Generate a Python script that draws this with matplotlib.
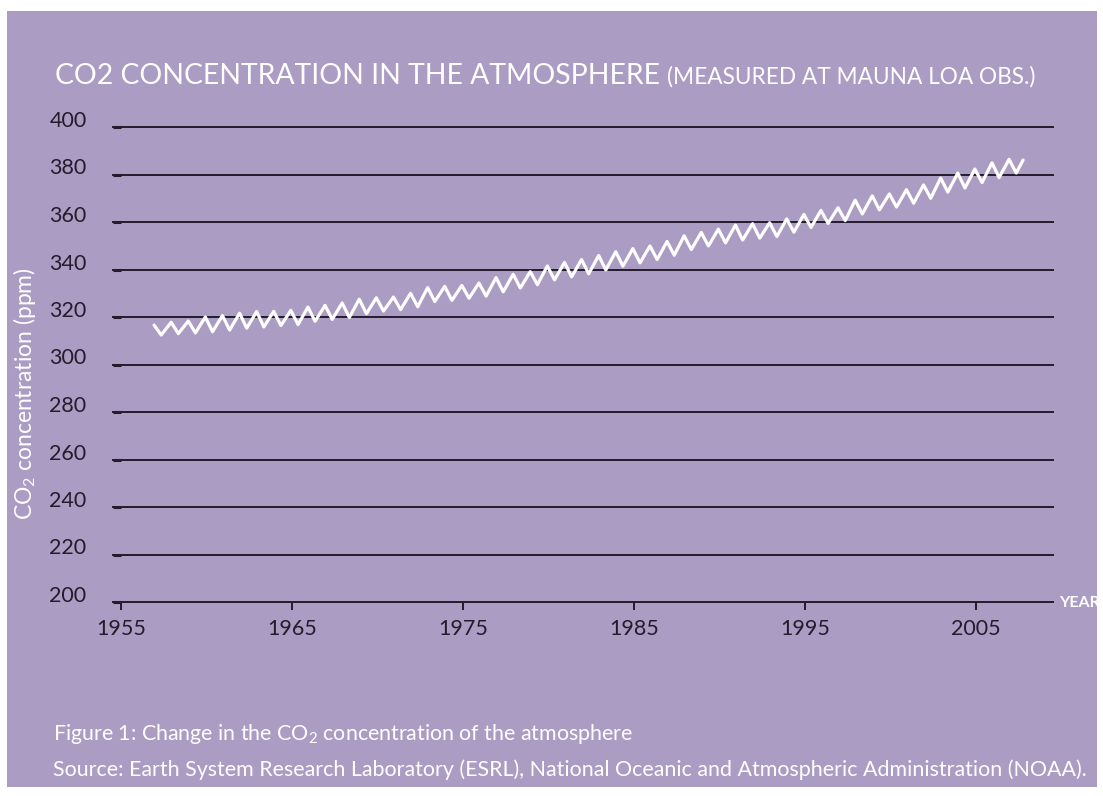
import numpy as np
import matplotlib
matplotlib.use("Agg")
import matplotlib.pyplot as plt
from matplotlib.patches import Rectangle

plt.rcParams['font.family'] = ['Lato', 'DejaVu Sans']
plt.rcParams['mathtext.fontset'] = 'custom'
plt.rcParams['mathtext.rm'] = 'Lato'
plt.rcParams['mathtext.it'] = 'Lato'

# Seasonal cycles (ppm): one high and one low per year
peak_years = list(range(1956, 2007))
peak_ppm = [316.6, 317.8, 318.3, 320.0, 320.6, 321.6, 322.3, 322.4, 322.8, 324.2,
            324.9, 325.9, 327.5, 328.1, 328.4, 330.0, 332.4, 332.9, 333.3, 334.3,
            336.6, 338.0, 339.1, 341.5, 343.0, 344.2, 345.9, 347.5, 348.8, 349.9,
            351.8, 354.2, 355.6, 357.0, 358.7, 359.3, 359.7, 361.3, 363.2, 364.9,
            366.0, 369.2, 371.0, 371.8, 373.6, 375.6, 378.5, 380.6, 382.3, 384.9,
            386.4]
trough_years = list(range(1957, 2008))
trough_ppm = [312.4, 313.0, 313.3, 313.8, 314.5, 315.3, 315.8, 316.4, 316.8, 318.2,
              319.0, 319.8, 321.4, 322.5, 323.1, 324.3, 326.5, 327.0, 327.9, 328.8,
              330.6, 332.2, 333.6, 335.6, 336.9, 338.2, 339.8, 341.4, 342.8, 344.2,
              346.0, 348.4, 349.9, 351.2, 352.4, 353.2, 353.9, 355.7, 357.7, 359.4,
              360.6, 363.4, 365.1, 366.3, 367.9, 370.0, 372.6, 374.3, 376.6, 378.7,
              380.6]
last_point = (2007.75, 386.1)

yticks = list(range(200, 401, 20))
xticks = [1955, 1965, 1975, 1985, 1995, 2005]

# where in the year the high and the low fall on the chart
PEAK_PHASE = 0.93
TROUGH_PHASE = 0.35

# build the zig-zag: high, low, high, low ... then the last reading
t, v = [], []
for i in range(len(peak_years)):
    t.append(peak_years[i] + PEAK_PHASE)
    v.append(peak_ppm[i])
    t.append(trough_years[i] + TROUGH_PHASE)
    v.append(trough_ppm[i])
t.append(last_point[0])
v.append(last_point[1])

bg = '#ab9cc4'
dark = '#241c2b'
W, H = 1103, 796

fig = plt.figure(figsize=(W / 100, H / 100), dpi=100, facecolor='white')
fig.patches.append(Rectangle((7 / W, 1 - 787 / H), (1097 - 7) / W, (787 - 11) / H,
                             transform=fig.transFigure, facecolor=bg, edgecolor='none', zorder=-10))

ax = fig.add_axes([113 / W, 1 - 602 / H, (1053 - 113) / W, (602 - 127) / H])
ax.set_facecolor('none')
ax.set_xlim(1954.53, 2009.5)
ax.set_ylim(200, 400)

for yv in yticks:
    ax.axhline(yv, color=dark, lw=1.4, zorder=1, clip_on=False)

ax.plot(t, v, color='white', lw=2.3, zorder=3, solid_joinstyle='round', solid_capstyle='round')

for s in ax.spines.values():
    s.set_visible(False)

ax.set_yticks(yticks)
ax.set_yticklabels([str(y) for y in yticks])
ax.tick_params(axis='y', direction='in', length=6, width=2.2, color=dark, pad=19,
               labelsize=15.5, labelcolor=dark)
for lab in ax.get_yticklabels():
    lab.set_verticalalignment('baseline')

ax.set_xticks(xticks)
ax.set_xticklabels([str(x) for x in xticks])
ax.tick_params(axis='x', direction='out', length=6, width=1.4, color=dark, pad=6,
               labelsize=15.5, labelcolor=dark)

fig.text(1059 / W, 1 - 603 / H, 'YEAR', color='white', fontsize=11.5, fontweight='bold',
         ha='left', va='center')

fig.text(55 / W, 1 - 84 / H, 'CO2 CONCENTRATION IN THE ATMOSPHERE', color='white',
         fontsize=20.4, ha='left', va='baseline')
fig.text(667 / W, 1 - 84 / H, '(MEASURED AT MAUNA LOA OBS.)', color='white',
         fontsize=16.3, ha='left', va='baseline')

fig.text(25 / W, 1 - 394 / H, 'CO$_2$ concentration (ppm)', color='white', fontsize=16.5,
         rotation=90, ha='center', va='center')

fig.text(53 / W, 1 - 740 / H, 'Figure 1: Change in the CO$_2$ concentration of the atmosphere',
         color='white', fontsize=15.4, ha='left', va='baseline')
fig.text(53 / W, 1 - 776 / H,
         'Source: Earth System Research Laboratory (ESRL), National Oceanic and Atmospheric Administration (NOAA).',
         color='white', fontsize=15.4, ha='left', va='baseline')

fig.savefig('out.png', dpi=100, facecolor='white')
